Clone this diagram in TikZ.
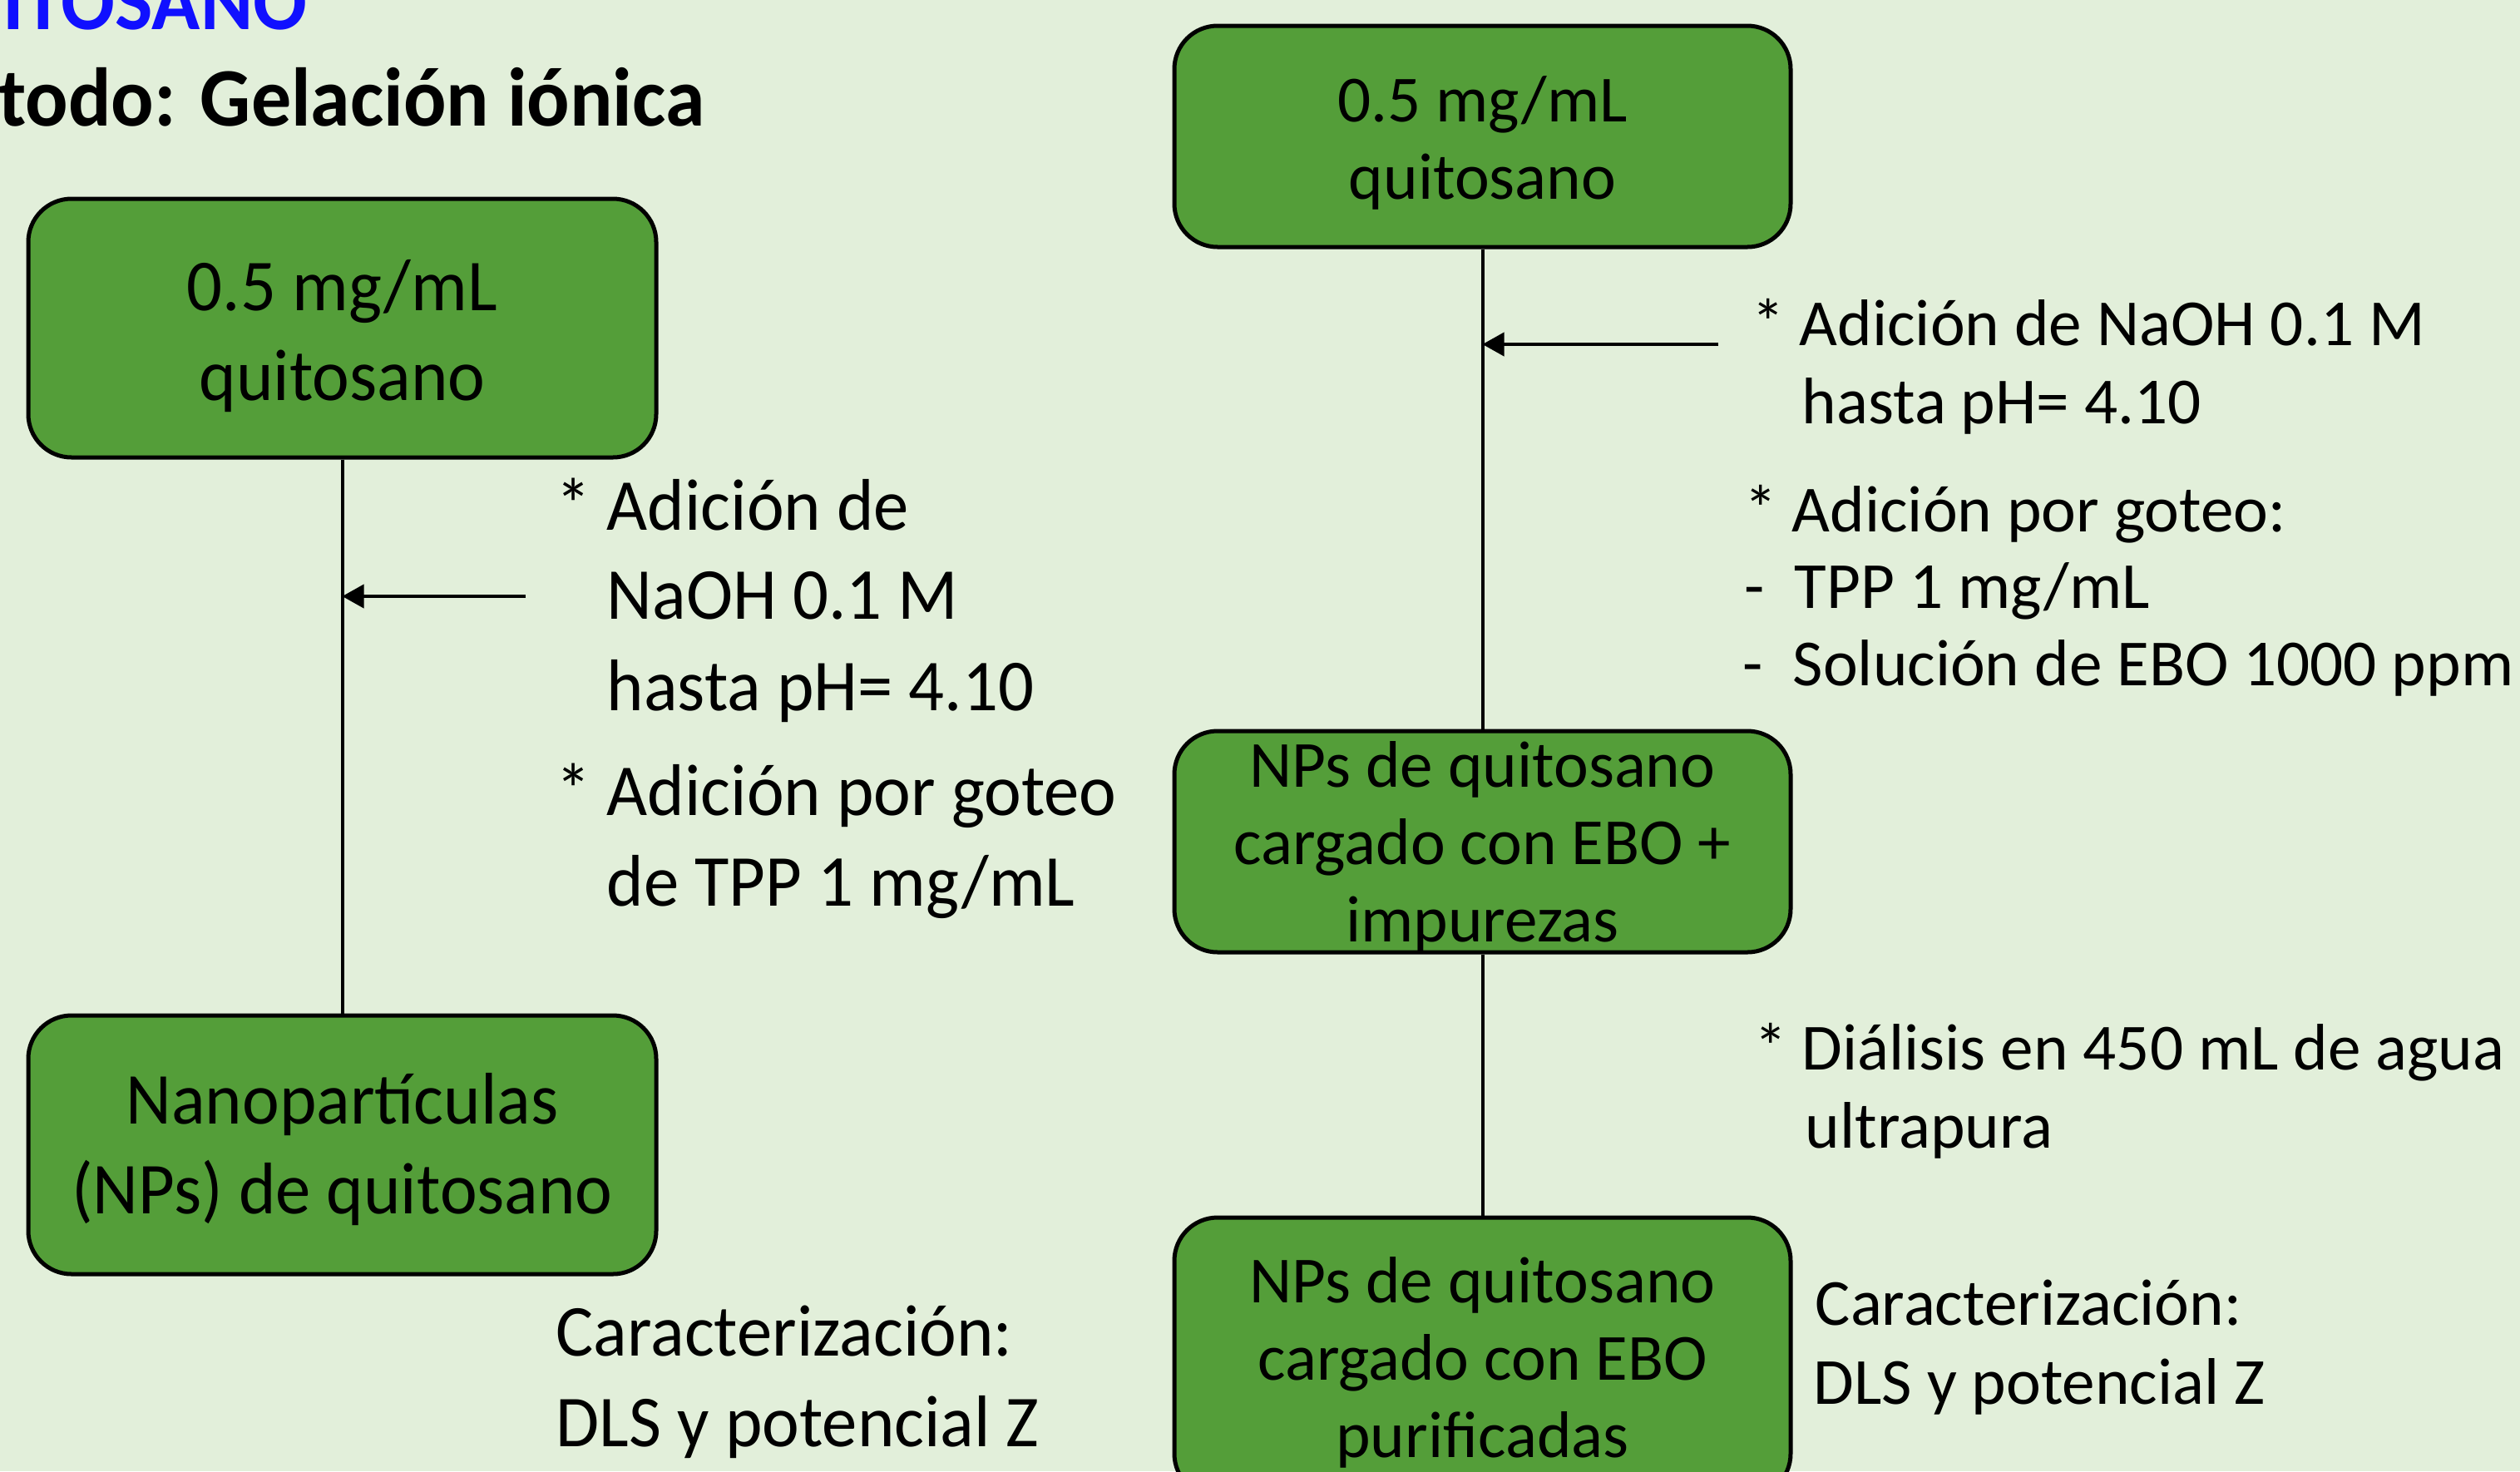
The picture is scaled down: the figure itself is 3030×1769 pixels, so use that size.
\documentclass[tikz,border=0pt]{standalone}
\usepackage{fontspec}
\setmainfont{Carlito}
\newfontfamily\leftfont{Carlito}[FakeStretch=0.963]
\newfontfamily\titlefont{Carlito}[FakeStretch=0.96]
\usetikzlibrary{arrows.meta}
\definecolor{bg}{RGB}{226,239,218}
\definecolor{boxgreen}{RGB}{84,158,57}
\definecolor{titleblue}{RGB}{16,16,255}
\begin{document}
\begin{tikzpicture}[x=0.25pt,y=-0.25pt,
  greenbox/.style={draw=black, line width=1.25pt, fill=boxgreen, rounded corners=13pt, inner sep=0pt},
  lbox/.style={greenbox, minimum width=188.75pt, minimum height=77.75pt},
  rbox/.style={greenbox, minimum width=185.25pt, minimum height=66.5pt},
  lboxtxt/.style={inner sep=0pt, align=center, font=\leftfont\fontsize{22}{27}\selectfont},
  rboxtxt/.style={inner sep=0pt, align=center, font=\fontsize{19.8}{23.25}\selectfont},
  bigtxt/.style={anchor=base west, inner sep=0pt, font=\leftfont\fontsize{22}{27}\selectfont},
  smalltxt/.style={anchor=base west, inner sep=0pt, font=\fontsize{19.8}{23.25}\selectfont},
  titletxt/.style={anchor=base east, inner sep=0pt, font=\titlefont\fontsize{25}{30}\selectfont\bfseries},
  conn/.style={line width=1pt},
  arr/.style={line width=1pt, -{Triangle[length=6.5pt,width=7pt]}}
]
\useasboundingbox (0,0) rectangle (3030,1769);
\clip (0,0) rectangle (3030,1769);
\fill[bg] (0,0) rectangle (3030,1769);

% titles (cut off at the edges, as in the reference)
\node[titletxt, text=titleblue] (t1) at (370,35) {QUITOSANO};
\node[titletxt] (t2) at (848,151) {Método: Gelación iónica};

% left column
\node[lbox] (L1) at (411.5,394.5) {};
\node[lboxtxt, yshift=-2.4pt] (L1t) at (L1.center) {0.5 mg/mL\\quitosano};
\node[lbox] (L2) at (411.5,1376.5) {};
\node[lboxtxt, yshift=-1.5pt] (L2t) at (L2.center) {Nanopartículas\\(NPs) de quitosano};
\draw[conn] (L1.south) -- (L2.north);
\coordinate (la) at (632,717);
\draw[arr] (la) -- (la -| L1.south);

\node[bigtxt] (l1) at (729,637) {\llap{*\ }Adición de};
\node[bigtxt] (l2) at (729,744) {NaOH 0.1 M};
\node[bigtxt] (l3) at (729,854) {hasta pH= 4.10};
\node[bigtxt] (l4) at (729,980) {\llap{*\ }Adición por goteo};
\node[bigtxt] (l5) at (729,1089) {de TPP 1 mg/mL};
\node[bigtxt] (l6) at (668,1630) {Caracterización:};
\node[bigtxt] (l7) at (668,1739) {DLS y potencial Z};

% right column
\node[rbox] (R1) at (1782.5,164) {};
\node[rboxtxt, yshift=-2pt] (R1t) at (R1.center) {0.5 mg/mL\\quitosano};
\node[rbox] (R2) at (1782.5,1012) {};
\node[rboxtxt, yshift=-1.5pt] (R2t) at (R2.center) {NPs de quitosano\\cargado con EBO +\\impurezas};
\node[rbox, minimum height=84pt] (R3) at (1782.5,1632) {};
\node[rboxtxt, yshift=-1.5pt] (R3t) at (R3.center) {NPs de quitosano\\cargado con EBO\\purificadas};
\draw[conn] (R1.south) -- (R2.north);
\draw[conn] (R2.south) -- (R3.north);
\coordinate (ra) at (2066,414);
\draw[arr] (ra) -- (ra -| R1.south);

\node[smalltxt] (r1) at (2163,415) {\llap{*\ }Adición de NaOH 0.1 M};
\node[smalltxt] (r2) at (2166,509) {hasta pH= 4.10};
\node[smalltxt] (r3) at (2154,639) {\llap{*\ }Adición por goteo:};
\node[smalltxt] (r4) at (2157,731) {\llap{-\ \ }TPP 1 mg/mL};
\node[smalltxt] (r5) at (2155,824) {\llap{-\ \ }Solución de EBO 1000 ppm};
\node[smalltxt] (r6) at (2166,1286) {\llap{*\ }Diálisis en 450 mL de agua};
\node[smalltxt] (r7) at (2170,1380) {ultrapura};
\node[smalltxt] (r8) at (2182,1593) {Caracterización:};
\node[smalltxt] (r9) at (2180,1688) {DLS y potencial Z};
\end{tikzpicture}
\end{document}
